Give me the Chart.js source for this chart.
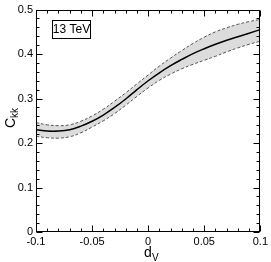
<!DOCTYPE html>
<html>
<head>
<meta charset="utf-8">
<script src="https://cdn.jsdelivr.net/npm/chart.js@4/dist/chart.umd.min.js"></script>
<style>
  html, body { margin: 0; padding: 0; background: #fff; }
  #wrap { width: 271px; height: 262px; }
</style>
</head>
<body>
<div id="wrap"><canvas id="ckkChart" width="271" height="262"></canvas></div>
<script>
// d_V の値
const dV = [-0.1, -0.09, -0.08, -0.07, -0.06, -0.05, -0.04, -0.03, -0.02, -0.01, 0,
            0.01, 0.02, 0.03, 0.04, 0.05, 0.06, 0.07, 0.08, 0.09, 0.1];
// 中心値
const ckkCentral = [0.230, 0.227, 0.227, 0.230, 0.238, 0.249, 0.263, 0.280, 0.299, 0.320, 0.340,
                    0.358, 0.374, 0.388, 0.401, 0.412, 0.422, 0.431, 0.439, 0.447, 0.455];
// 上限
const ckkUpper = [0.246, 0.241, 0.239, 0.241, 0.249, 0.261, 0.276, 0.294, 0.313, 0.333, 0.353,
                  0.373, 0.391, 0.408, 0.424, 0.438, 0.450, 0.459, 0.467, 0.473, 0.478];
// 下限
const ckkLower = [0.215, 0.212, 0.211, 0.214, 0.223, 0.236, 0.250, 0.266, 0.285, 0.305, 0.324,
                  0.341, 0.355, 0.367, 0.377, 0.386, 0.395, 0.405, 0.414, 0.422, 0.429];
// 目盛りラベル
const xTicks = [-0.1, -0.05, 0, 0.05, 0.1];
const yTicks = [0, 0.1, 0.2, 0.3, 0.4, 0.5];
const boxLabel = '13 TeV';

const FONT = '"Liberation Sans", Arial, sans-serif';

function toPoints(ys) {
    return dV.map((x, i) => ({ x: x, y: ys[i] }));
}

function fmt(v) {
    return String(parseFloat(v.toFixed(3)));
}

// 枠・内向き目盛り・軸タイトル・ラベル箱
const framePlugin = {
    id: 'frame',
    afterDraw(chart) {
        const ctx = chart.ctx;
        const a = chart.chartArea;
        const xs = chart.scales.x;
        const ys = chart.scales.y;
        const L = Math.round(a.left) + 0.5, R = Math.round(a.right) - 0.5;
        const T = Math.round(a.top) + 0.5, B = Math.round(a.bottom) - 0.5;
        ctx.save();
        ctx.strokeStyle = '#000';
        ctx.lineWidth = 1;
        ctx.setLineDash([]);
        ctx.strokeRect(L, T, R - L, B - T);

        ctx.beginPath();
        // x 目盛り (0.01 毎, 0.05 で長く)
        for (let i = -10; i <= 10; i++) {
            const px = Math.round(xs.getPixelForValue(i / 100)) + 0.5;
            const len = (i % 5 === 0) ? 6 : 3;
            ctx.moveTo(px, B); ctx.lineTo(px, B - len);
            ctx.moveTo(px, T); ctx.lineTo(px, T + len);
        }
        // y 目盛り (0.02 毎, 0.1 で長く)
        for (let j = 0; j <= 25; j++) {
            const py = Math.round(ys.getPixelForValue(j / 50)) + 0.5;
            const len = (j % 5 === 0) ? 6 : 3;
            ctx.moveTo(L, py); ctx.lineTo(L + len, py);
            ctx.moveTo(R, py); ctx.lineTo(R - len, py);
        }
        ctx.stroke();

        // ラベル箱
        ctx.fillStyle = '#fff';
        ctx.fillRect(52.5, 20.5, 38, 18);
        ctx.strokeRect(52.5, 20.5, 38, 18);
        ctx.fillStyle = '#000';
        ctx.font = '12px ' + FONT;
        ctx.textAlign = 'center';
        ctx.textBaseline = 'middle';
        ctx.fillText(boxLabel, 71.5, 30);

        // x 軸タイトル d_V
        ctx.textAlign = 'left';
        ctx.textBaseline = 'alphabetic';
        ctx.font = '14px ' + FONT;
        ctx.fillText('d', 144, 257);
        ctx.font = '10px ' + FONT;
        ctx.fillText('V', 152, 261);

        // y 軸タイトル C_kk
        ctx.translate(15, 128);
        ctx.rotate(-Math.PI / 2);
        ctx.font = '14px ' + FONT;
        ctx.fillText('C', 0, 0);
        ctx.font = '10px ' + FONT;
        ctx.fillText('kk', 10, 3);
        ctx.restore();
    }
};

function createChart() {
    const ctx = document.getElementById('ckkChart').getContext('2d');
    new Chart(ctx, {
        type: 'line',
        data: {
            datasets: [
                {
                    label: 'upper',
                    data: toPoints(ckkUpper),
                    borderColor: '#555',
                    borderWidth: 1,
                    borderDash: [3, 2],
                    backgroundColor: '#dcdcdc',
                    fill: '+1',
                    pointRadius: 0,
                    tension: 0.4
                },
                {
                    label: 'lower',
                    data: toPoints(ckkLower),
                    borderColor: '#555',
                    borderWidth: 1,
                    borderDash: [3, 2],
                    fill: false,
                    pointRadius: 0,
                    tension: 0.4
                },
                {
                    label: 'central',
                    data: toPoints(ckkCentral),
                    borderColor: '#000',
                    borderWidth: 1.5,
                    fill: false,
                    pointRadius: 0,
                    tension: 0.4
                }
            ]
        },
        options: {
            responsive: false,
            animation: false,
            layout: { padding: { top: 5, right: 8, left: 0, bottom: 0 } },
            plugins: {
                legend: { display: false },
                tooltip: { enabled: false },
                filler: { drawTime: 'beforeDatasetsDraw' }
            },
            scales: {
                x: {
                    type: 'linear',
                    min: -0.1,
                    max: 0.1,
                    afterBuildTicks: (s) => { s.ticks = xTicks.map(v => ({ value: v })); },
                    afterFit: (s) => { s.height = 30; },
                    grid: { display: false, drawTicks: false },
                    border: { display: false },
                    ticks: {
                        padding: 3,
                        maxRotation: 0,
                        autoSkip: false,
                        color: '#000',
                        font: { family: FONT, size: 11 },
                        callback: (v) => fmt(v)
                    }
                },
                y: {
                    type: 'linear',
                    min: 0,
                    max: 0.5,
                    afterBuildTicks: (s) => { s.ticks = yTicks.map(v => ({ value: v })); },
                    afterFit: (s) => { s.width = 36; },
                    grid: { display: false, drawTicks: false },
                    border: { display: false },
                    ticks: {
                        padding: 3,
                        autoSkip: false,
                        color: '#000',
                        font: { family: FONT, size: 11 },
                        callback: (v) => fmt(v)
                    }
                }
            }
        },
        plugins: [framePlugin]
    });
}

createChart();
</script>
</body>
</html>
